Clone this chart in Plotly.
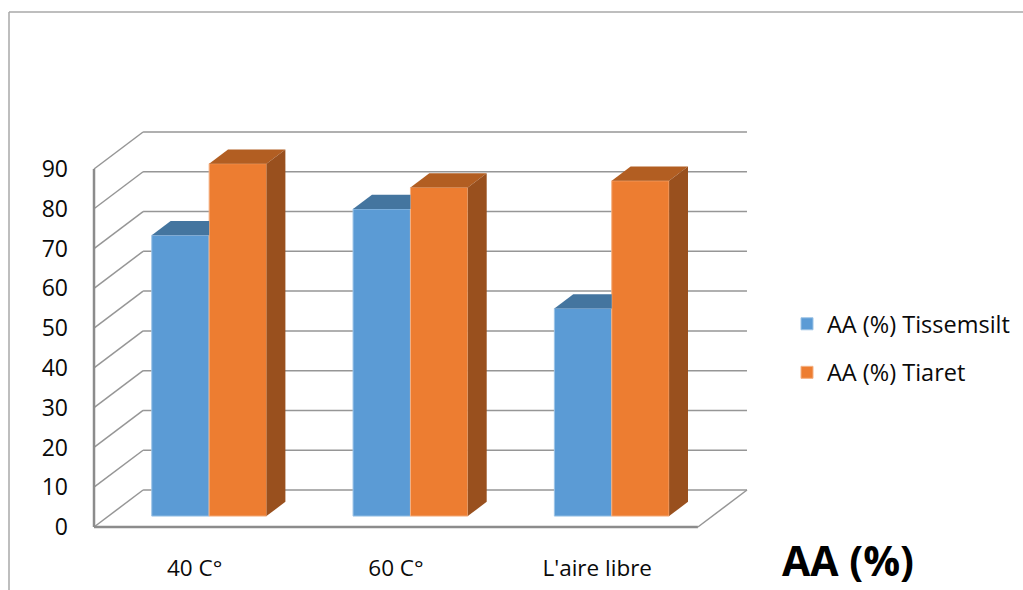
import plotly.graph_objects as go

categories = ["40 C°", "60 C°", "L'aire libre"]
tissemsilt = [70.6, 77.2, 52.2]
tiaret = [88.6, 82.6, 84.3]
y_ticks = [0, 10, 20, 30, 40, 50, 60, 70, 80, 90]

# Oblique projection of the depth axis, in axis units
DX, DY = 0.2438, 9.3
Z0, Z1 = 0.295, 0.68     # front / back of the bars along the depth axis
W = 0.285                # bar width
PAD_X, PAD_Y = 0.01, 0.5

GRID = "#969696"
AXIS = "#8c8c8c"
BLUE, BLUE_TOP = "#5B9BD5", "#44759F"
ORANGE, ORANGE_TOP, ORANGE_SIDE = "#ED7D31", "#B25E22", "#99501E"
FONT = "Open Sans"

pos = [i + DX * Z0 for i in range(len(categories))]
base = DY * Z0
ddx, ddy = DX * (Z1 - Z0), DY * (Z1 - Z0)

fig = go.Figure()
fig.add_bar(x=pos, y=tissemsilt, base=base, width=W, offset=-W, name="AA (%) Tissemsilt",
            legendgroup="a", marker=dict(color=BLUE, line=dict(color="#9CC3E6", width=1)))
fig.add_bar(x=pos, y=tiaret, base=base, width=W, offset=0, name="AA (%) Tiaret",
            legendgroup="b", marker=dict(color=ORANGE, line=dict(color="#F4B183", width=1)))


def face(xs, ys, color):
    fig.add_scatter(x=xs, y=ys, mode="lines", fill="toself", fillcolor=color,
                    line=dict(width=0, color=color), showlegend=False, hoverinfo="skip")


for p, b, o in zip(pos, tissemsilt, tiaret):
    tb, to = b + base, o + base
    # blue top, hidden by the orange bar beyond its left edge
    face([p - W, p, p, p - W + ddx, p - W], [tb, tb, tb + ddy, tb + ddy, tb], BLUE_TOP)
    # orange top and side
    face([p, p + W, p + W + ddx, p + ddx, p], [to, to, to + ddy, to + ddy, to], ORANGE_TOP)
    face([p + W, p + W + ddx, p + W + ddx, p + W, p + W],
         [base, base + ddy, to + ddy, to, base], ORANGE_SIDE)

x0 = -0.5
x1 = len(categories) - 0.5
shapes = []
for v in y_ticks:
    # back wall and left wall
    shapes.append(dict(type="line", xref="x", yref="y", layer="below",
                       x0=x0 + DX, x1=x1 + DX, y0=v + DY, y1=v + DY,
                       line=dict(color=GRID, width=1.5)))
    shapes.append(dict(type="line", xref="x", yref="y", layer="below",
                       x0=x0, x1=x0 + DX, y0=v, y1=v + DY,
                       line=dict(color=GRID, width=1.5)))
# right edge of the floor
shapes.append(dict(type="line", xref="x", yref="y", layer="below",
                   x0=x1, x1=x1 + DX, y0=0, y1=DY, line=dict(color=GRID, width=1.5)))
# front axis lines, which stop at the front of the box
shapes.append(dict(type="line", xref="x", yref="y", layer="below",
                   x0=x0, x1=x0, y0=0, y1=90, line=dict(color=AXIS, width=2.5)))
shapes.append(dict(type="line", xref="x", yref="y", layer="below",
                   x0=x0, x1=x1, y0=0, y1=0, line=dict(color=AXIS, width=2.5)))

# picture frame (left and top only), from plot-fraction coordinates
L, R, T, B = 90, 1023 - 746 - 3, 130, 590 - 530
PAD_L = 4 / 201.0
PAD_B = 3 / 3.978
pw, ph = 1023 - L - R, 590 - T - B
fx = lambda px: (px - L) / pw
fy = lambda py: 1 - (py - T) / ph
frame = dict(color="#a8a8a8", width=1.5)
shapes.append(dict(type="line", xref="paper", yref="paper", x0=fx(9), x1=fx(9), y0=fy(12), y1=fy(590), line=frame))
shapes.append(dict(type="line", xref="paper", yref="paper", x0=fx(9), x1=fx(1023), y0=fy(12), y1=fy(12), line=frame))

fig.update_layout(
    width=1023, height=590, margin=dict(l=L, r=R, t=T, b=B, autoexpand=False),
    paper_bgcolor="white", plot_bgcolor="white", barmode="overlay",
    font=dict(family=FONT, color="#0a0a0a"), shapes=shapes,
    title=dict(text="<b>AA (%)</b>", x=848 / 1023, y=1 - 562 / 590, xanchor="center", yanchor="middle",
               xref="container", yref="container", automargin=False,
               font=dict(family=FONT, size=41, color="#000000")),
    legend=dict(x=fx(787), y=fy(302), xanchor="left", yanchor="top", tracegroupgap=15,
                font=dict(size=23.5), bgcolor="rgba(0,0,0,0)"),
    xaxis=dict(range=[x0 - PAD_L, x1 + DX + PAD_X], tickvals=list(range(len(categories))), ticktext=categories,
               showgrid=False, zeroline=False, showline=False, automargin=False,
               ticks="", ticklabelstandoff=22, tickfont=dict(size=22.5)),
    yaxis=dict(range=[-PAD_B, 90 + DY + PAD_Y], tickvals=y_ticks, showgrid=False, zeroline=False,
               showline=False, automargin=False,
               ticks="", ticklabelstandoff=21, tickfont=dict(size=23)),
)
fig.write_html("out.html", config=dict(displayModeBar=False), post_script="document.body.style.margin='0';")
